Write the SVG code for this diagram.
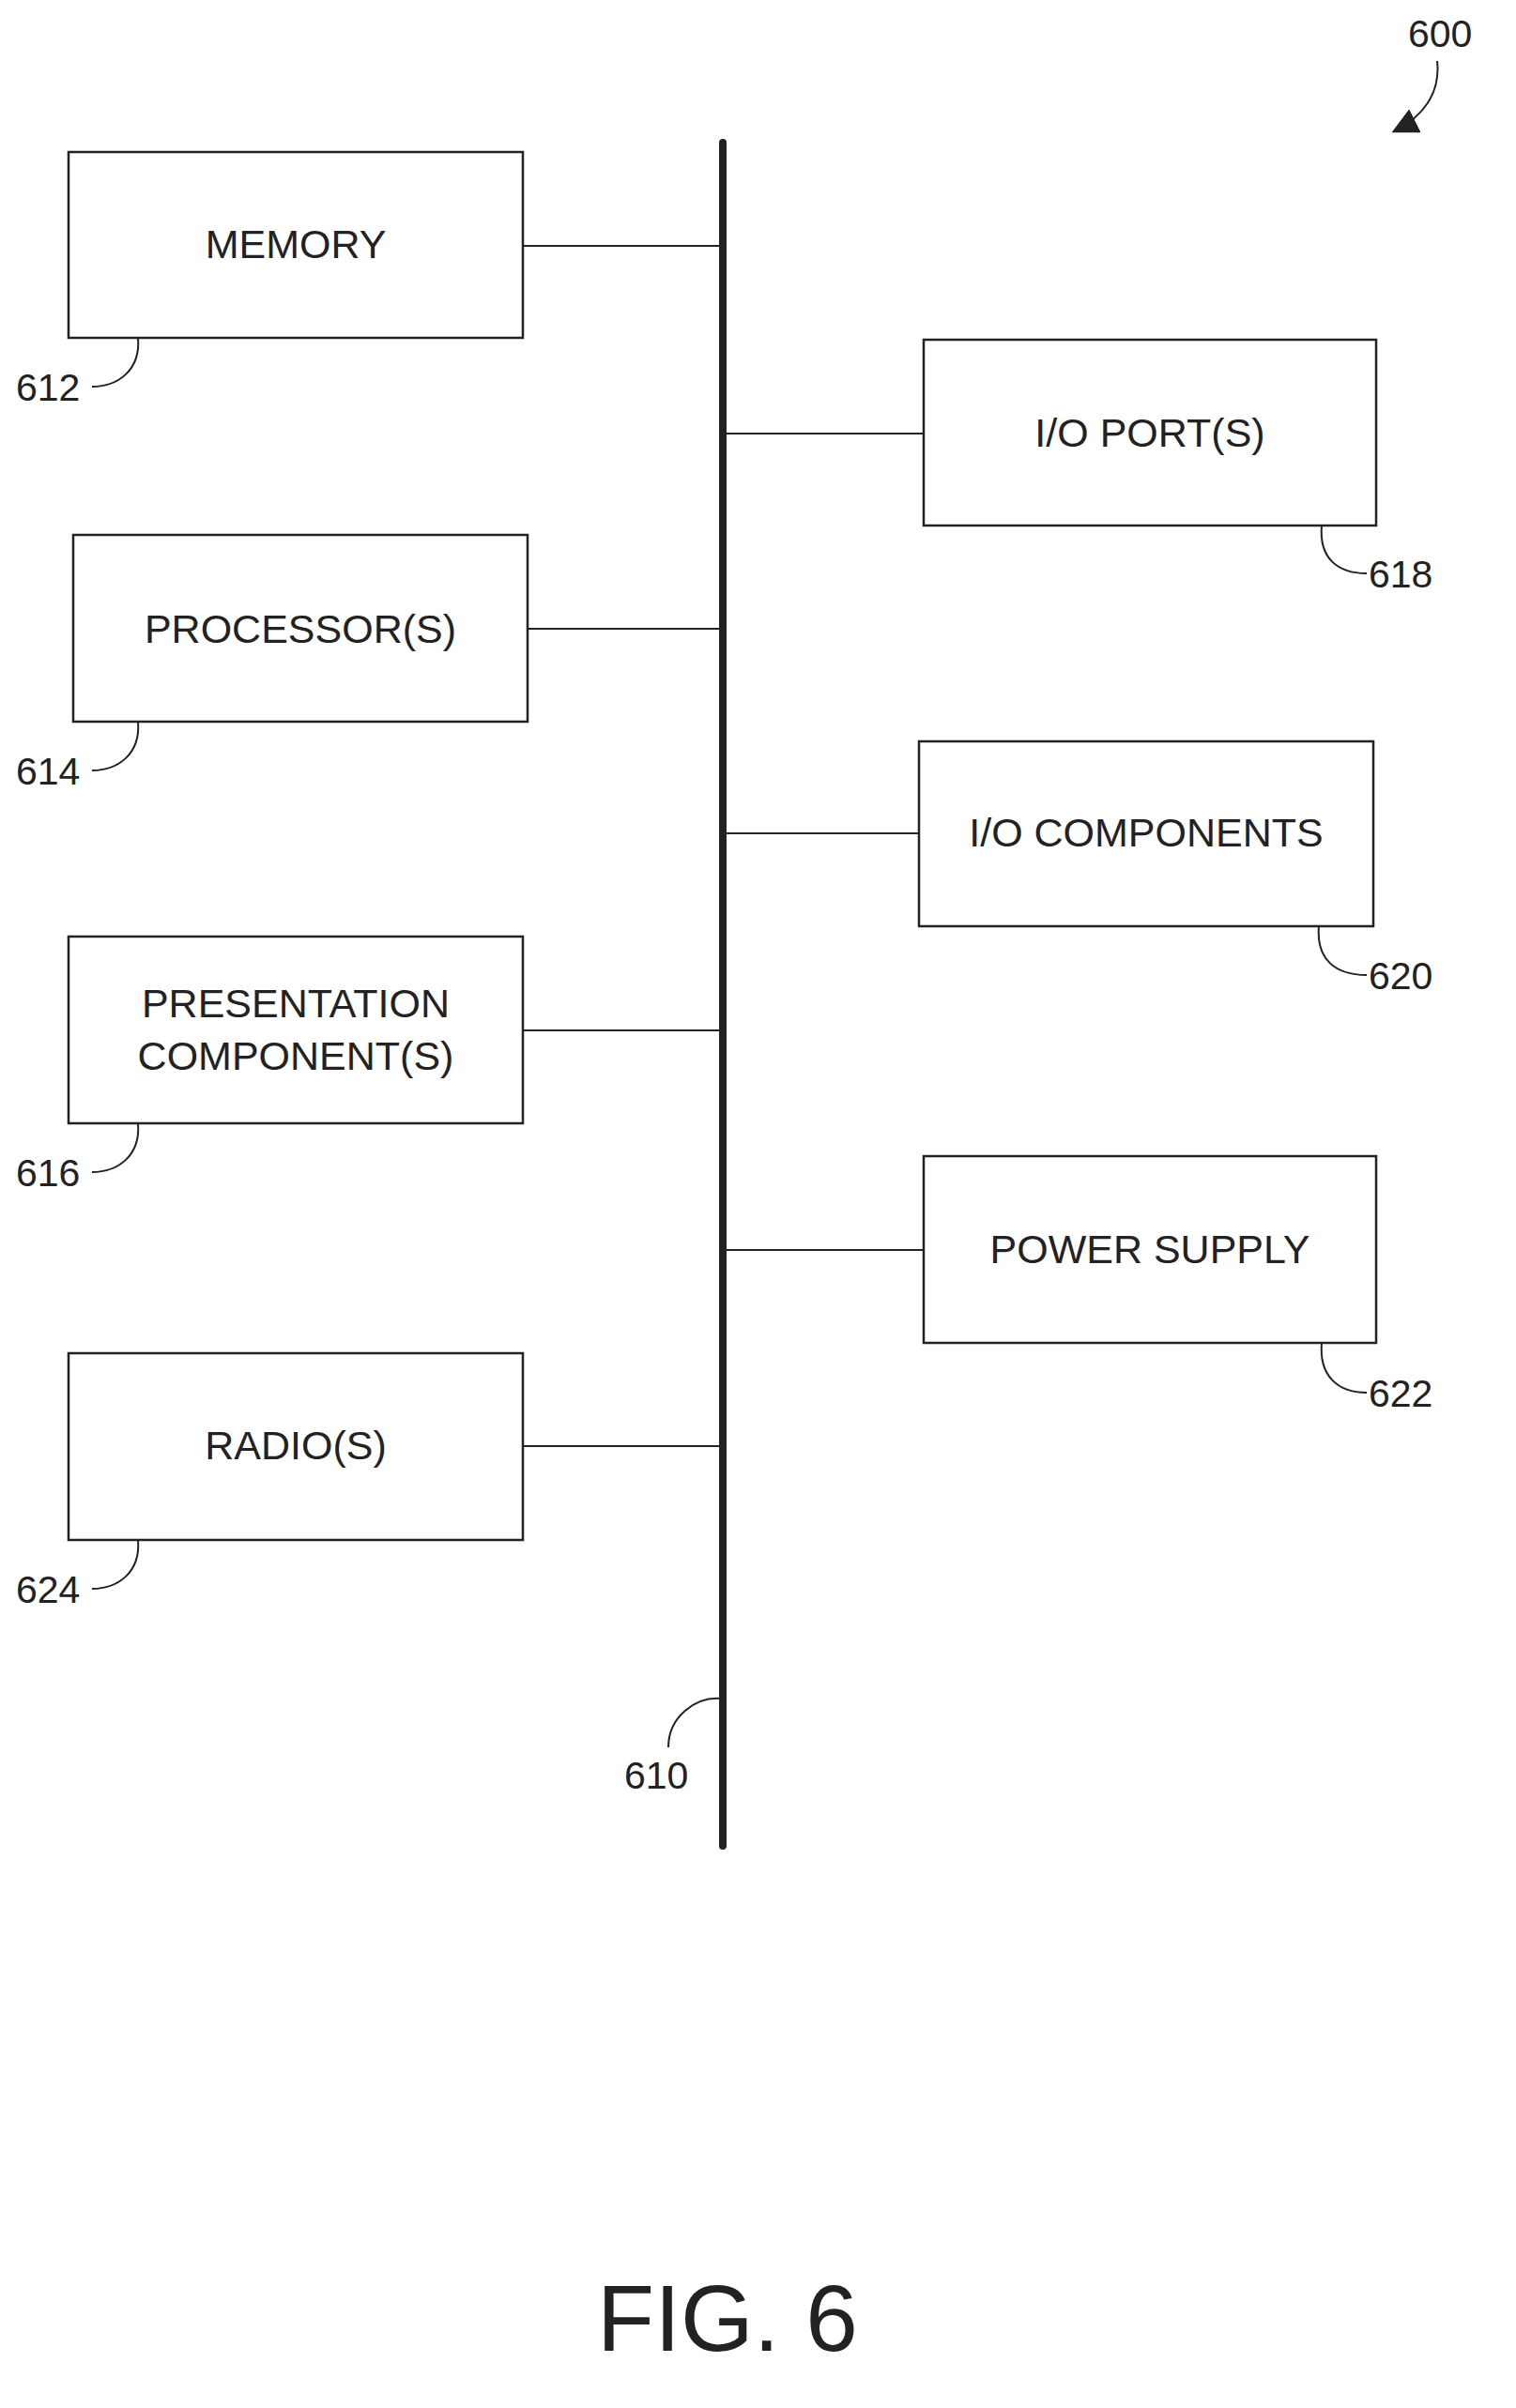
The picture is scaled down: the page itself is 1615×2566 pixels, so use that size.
<svg xmlns="http://www.w3.org/2000/svg" width="1615" height="2566" viewBox="0 0 1615 2566">
<style>
.box{fill:#fff;stroke:#222;stroke-width:2.5}
.t{font-family:"Liberation Sans",Arial,sans-serif;font-size:43px;fill:#222;text-anchor:middle}
.n{font-family:"Liberation Sans",Arial,sans-serif;font-size:41px;fill:#222}
.c{fill:none;stroke:#222;stroke-width:2}
.ld{fill:none;stroke:#222;stroke-width:2}
</style>
<defs><marker id="ah" viewBox="0 0 10 10" refX="9" refY="5" markerWidth="14" markerHeight="14" orient="auto-start-reverse"><path d="M0,0 L10,5 L0,10 z" fill="#222"/></marker></defs>
<rect width="1615" height="2566" fill="#fff"/>
<g id="connectors">
<line x1="770" y1="152" x2="770" y2="1967" stroke="#222" stroke-width="8" stroke-linecap="round"/>
<line class="c" x1="557" y1="262" x2="770" y2="262"/>
<line class="c" x1="562" y1="670" x2="770" y2="670"/>
<line class="c" x1="557" y1="1098" x2="770" y2="1098"/>
<line class="c" x1="557" y1="1541" x2="770" y2="1541"/>
<line class="c" x1="770" y1="462" x2="984" y2="462"/>
<line class="c" x1="770" y1="888" x2="979" y2="888"/>
<line class="c" x1="770" y1="1332" x2="984" y2="1332"/>
</g>
<g id="n600"><text class="n" x="1500" y="50">600</text><path class="ld" d="M1531,65 C1535,100 1515,125 1485,140" marker-end="url(#ah)"/></g>
<g id="n612"><rect class="box" x="73" y="162" width="484" height="198"/><text class="t" x="315" y="275">MEMORY</text><text class="n" x="17" y="427">612</text><path class="ld" d="M147,360 C150,395 125,412 98,412"/></g>
<g id="n614"><rect class="box" x="78" y="570" width="484" height="199"/><text class="t" x="320" y="685">PROCESSOR(S)</text><text class="n" x="17" y="836">614</text><path class="ld" d="M147,769 C150,804 125,821 98,821"/></g>
<g id="n616"><rect class="box" x="73" y="998" width="484" height="199"/><text class="t" x="315" y="1084">PRESENTATION</text><text class="t" x="315" y="1140">COMPONENT(S)</text><text class="n" x="17" y="1264">616</text><path class="ld" d="M147,1197 C150,1232 125,1249 98,1249"/></g>
<g id="n624"><rect class="box" x="73" y="1442" width="484" height="199"/><text class="t" x="315" y="1555">RADIO(S)</text><text class="n" x="17" y="1708">624</text><path class="ld" d="M147,1641 C150,1676 125,1693 98,1693"/></g>
<g id="n618"><rect class="box" x="984" y="362" width="482" height="198"/><text class="t" x="1225" y="476">I/O PORT(S)</text><text class="n" x="1458" y="626">618</text><path class="ld" d="M1408,560 C1405,595 1425,611 1456,611"/></g>
<g id="n620"><rect class="box" x="979" y="790" width="484" height="197"/><text class="t" x="1221" y="902">I/O COMPONENTS</text><text class="n" x="1458" y="1054">620</text><path class="ld" d="M1405,987 C1402,1022 1422,1039 1456,1039"/></g>
<g id="n622"><rect class="box" x="984" y="1232" width="482" height="199"/><text class="t" x="1225" y="1346">POWER SUPPLY</text><text class="n" x="1458" y="1499">622</text><path class="ld" d="M1408,1431 C1405,1466 1425,1484 1456,1484"/></g>
<g id="n610"><text class="n" x="665" y="1906">610</text><path class="ld" d="M768,1810 C740,1808 712,1830 712,1862"/></g>
<text x="775" y="2505" font-family="'Liberation Sans',Arial,sans-serif" font-size="100" fill="#222" text-anchor="middle">FIG. 6</text>
</svg>
